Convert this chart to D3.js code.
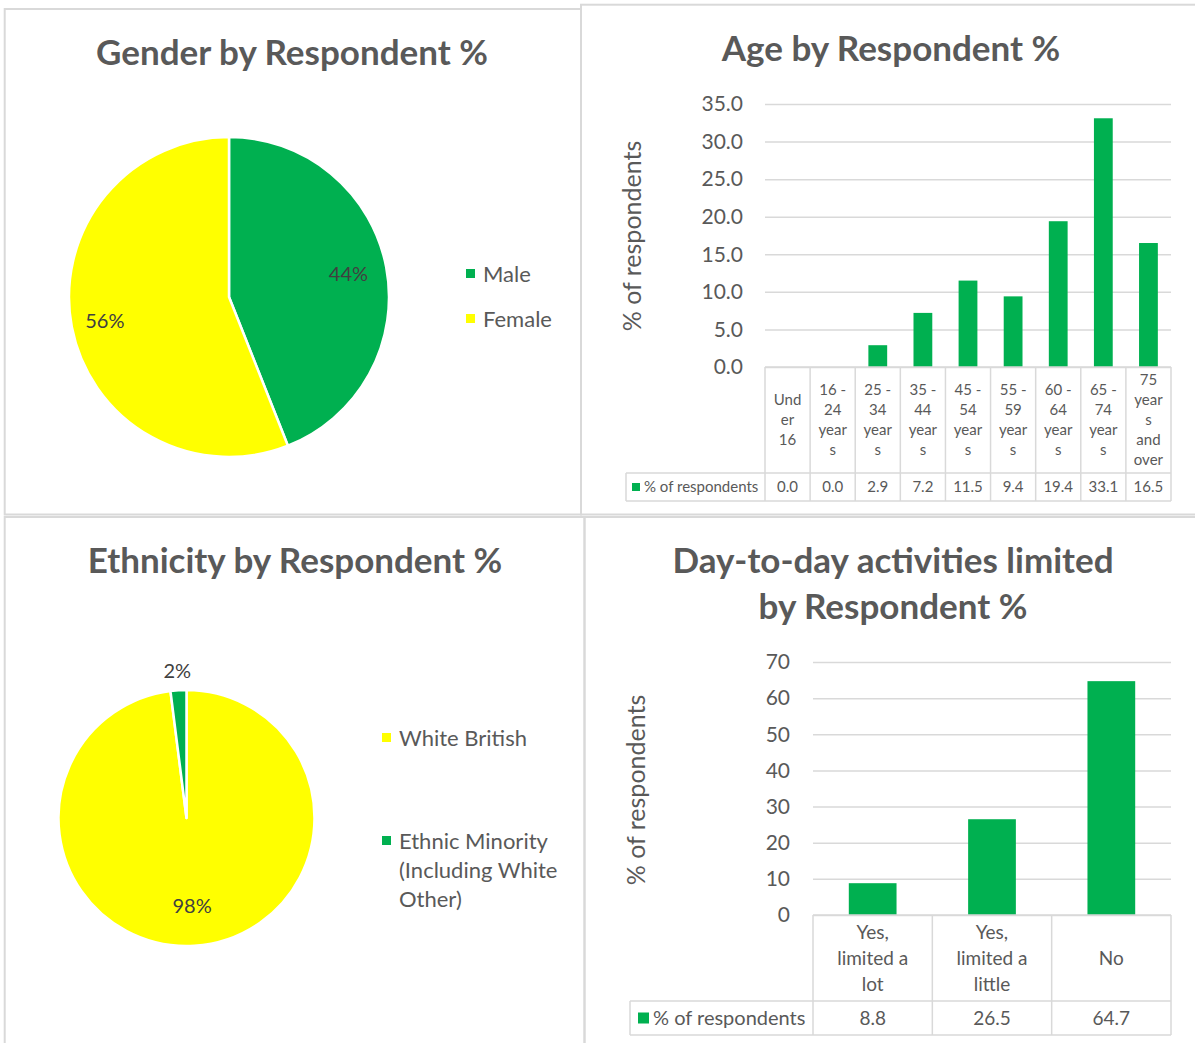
<!DOCTYPE html>
<html>
<head>
<meta charset="utf-8">
<script src="https://cdn.jsdelivr.net/npm/d3@7/dist/d3.min.js"></script>
<style>
  body { margin: 0; background: #fff; }
  svg text { font-family: Lato, "Open Sans", sans-serif; fill: #595959; }
</style>
</head>
<body>
<div id="chart"></div>
<script>
// ---- data ----
var genderLabels = ["Male", "Female"];
var genderValues = [44, 56];

var ethnicityLabels = ["White British", "Ethnic Minority (Including White Other)"];
var ethnicityLegendLines = [["White British"], ["Ethnic Minority", "(Including White", "Other)"]];
var ethnicityValues = [98, 2];

var ageCategories = ["Under 16", "16 - 24 years", "25 - 34 years", "35 - 44 years", "45 - 54 years",
    "55 - 59 years", "60 - 64 years", "65 - 74 years", "75 years and over"];
var ageLabelLines = [["Und", "er", "16"], ["16 -", "24", "year", "s"], ["25 -", "34", "year", "s"],
    ["35 -", "44", "year", "s"], ["45 -", "54", "year", "s"], ["55 -", "59", "year", "s"],
    ["60 -", "64", "year", "s"], ["65 -", "74", "year", "s"], ["75", "year", "s", "and", "over"]];
var ageValues = [0.0, 0.0, 2.9, 7.2, 11.5, 9.4, 19.4, 33.1, 16.5];
var ageTicks = [0, 5, 10, 15, 20, 25, 30, 35];

var activityCategories = ["Yes, limited a lot", "Yes, limited a little", "No"];
var activityLabelLines = [["Yes,", "limited a", "lot"], ["Yes,", "limited a", "little"], ["No"]];
var activityValues = [8.8, 26.5, 64.7];
var activityTicks = [0, 10, 20, 30, 40, 50, 60, 70];

var seriesName = "% of respondents";

var green = "#00B050", yellow = "#FFFF00", grid = "#D9D9D9";

var svg = d3.select("#chart")
    .append("svg")
    .attr("width", 1195)
    .attr("height", 1043);

// panel frames (each chart was a separate box)
var frames = [[4.7, 9, 576.3, 505.5], [581, 4.7, 630, 509.8], [4.7, 517, 579.8, 540], [584.5, 517, 630, 540]];
svg.selectAll("rect.frame")
    .data(frames)
    .enter().append("rect")
    .attr("class", "frame")
    .attr("x", d => d[0]).attr("y", d => d[1])
    .attr("width", d => d[2]).attr("height", d => d[3])
    .attr("fill", "none")
    .attr("stroke", grid)
    .attr("stroke-width", 2);

function title(lines, cx, y, lh) {
    var t = svg.append("text")
        .attr("text-anchor", "middle")
        .attr("font-size", 35)
        .attr("font-weight", "bold");
    lines.forEach(function (l, i) {
        t.append("tspan").attr("x", cx).attr("y", y + i * lh).text(l);
    });
}

title(["Gender by Respondent %"], 292, 65, 0);
title(["Age by Respondent %"], 891, 61, 0);
title(["Ethnicity by Respondent %"], 295, 573, 0);
title(["Day-to-day activities limited", "by Respondent %"], 893, 573, 46);

// ---- pies ----
function drawPie(cx, cy, r, values, colors, labelRadii) {
    var g = svg.append("g").attr("transform", "translate(" + cx + "," + cy + ")");
    var arcs = d3.pie().sort(null).value(d => d)(values);
    var total = d3.sum(values);
    var arc = d3.arc().innerRadius(0).outerRadius(r);
    g.selectAll("path")
        .data(arcs)
        .enter().append("path")
        .attr("d", arc)
        .attr("fill", (d, i) => colors[i])
        .attr("stroke", "#fff")
        .attr("stroke-width", 2.5)
        .attr("stroke-linejoin", "round");
    g.selectAll("text.pct")
        .data(arcs)
        .enter().append("text")
        .attr("class", "pct")
        .attr("transform", function (d, i) {
            var lr = r * labelRadii[i];
            return "translate(" + d3.arc().innerRadius(lr).outerRadius(lr).centroid(d) + ")";
        })
        .attr("text-anchor", "middle")
        .attr("dy", "0.35em")
        .attr("font-size", 20)
        .style("fill", "#404040")
        .text(d => d3.format(".0%")(d.value / total));
}

function drawLegend(x, ys, lines, colors, lh) {
    lines.forEach(function (ls, i) {
        svg.append("rect")
            .attr("x", x).attr("y", ys[i] - 5)
            .attr("width", 9).attr("height", 9)
            .attr("fill", colors[i]);
        var t = svg.append("text").attr("font-size", 22);
        ls.forEach(function (l, j) {
            t.append("tspan").attr("x", x + 17).attr("y", ys[i] + j * lh).attr("dy", "0.35em").text(l);
        });
    });
}

drawPie(229, 297, 160, genderValues, [green, yellow], [0.76, 0.79]);
drawLegend(466, [274, 319], genderLabels.map(d => [d]), [green, yellow], 29);

drawPie(186.5, 818, 128, ethnicityValues, [yellow, green], [0.69, 1.15]);
drawLegend(382, [738, 841], ethnicityLegendLines, [yellow, green], 29);

// ---- bar charts with data table ----
function drawBarTable(cfg) {
    var g = svg.append("g");
    var x = d3.scaleBand().domain(cfg.categories).range([cfg.left, cfg.right]).padding(0);
    var y = d3.scaleLinear().domain([0, d3.max(cfg.ticks)]).range([cfg.bottom, cfg.top]);
    var bw = x.bandwidth() / (1 + cfg.gap);

    // gridlines + tick labels
    var axis = d3.axisLeft(y)
        .tickValues(cfg.ticks)
        .tickSize(-(cfg.right - cfg.left))
        .tickPadding(cfg.tickPad)
        .tickFormat(cfg.tickFormat);
    var ax = g.append("g")
        .attr("transform", "translate(" + cfg.left + ",0)")
        .call(axis);
    ax.select(".domain").remove();
    ax.selectAll(".tick line").attr("stroke", grid).attr("stroke-width", 1.5);
    ax.selectAll(".tick text")
        .attr("font-size", 21)
        .attr("font-family", null)
        .attr("fill", null);

    // axis title
    g.append("text")
        .attr("transform", "translate(" + cfg.titleX + "," + cfg.titleY + ") rotate(-90)")
        .attr("text-anchor", "middle")
        .attr("dy", "0.35em")
        .attr("font-size", 25)
        .text(seriesName);

    // bars
    g.selectAll("rect.bar")
        .data(cfg.values)
        .enter().append("rect")
        .attr("class", "bar")
        .attr("x", (d, i) => x(cfg.categories[i]) + (x.bandwidth() - bw) / 2)
        .attr("y", d => y(d))
        .attr("width", bw)
        .attr("height", d => cfg.bottom - y(d))
        .attr("fill", green);

    // data table
    var hb = cfg.bottom + cfg.headH, vb = hb + cfg.rowH;
    var tl = g.append("g").attr("stroke", grid).attr("stroke-width", 1.5);
    tl.append("line").attr("x1", cfg.left).attr("x2", cfg.right).attr("y1", cfg.bottom).attr("y2", cfg.bottom);
    tl.append("line").attr("x1", cfg.legendX).attr("x2", cfg.right).attr("y1", hb).attr("y2", hb);
    tl.append("line").attr("x1", cfg.legendX).attr("x2", cfg.right).attr("y1", vb).attr("y2", vb);
    tl.append("line").attr("x1", cfg.legendX).attr("x2", cfg.legendX).attr("y1", hb).attr("y2", vb);
    tl.selectAll("line.col")
        .data(cfg.categories.concat(["end"]))
        .enter().append("line")
        .attr("class", "col")
        .attr("x1", d => d === "end" ? cfg.right : x(d))
        .attr("x2", d => d === "end" ? cfg.right : x(d))
        .attr("y1", cfg.bottom).attr("y2", vb);

    // category labels (wrapped as in the picture)
    var hc = cfg.bottom + cfg.headH / 2;
    cfg.labelLines.forEach(function (ls, i) {
        var t = g.append("text")
            .attr("text-anchor", "middle")
            .attr("font-size", cfg.tableFont);
        var y0 = hc - (ls.length - 1) / 2 * cfg.lineH;
        ls.forEach(function (l, j) {
            t.append("tspan")
                .attr("x", x(cfg.categories[i]) + x.bandwidth() / 2)
                .attr("y", y0 + j * cfg.lineH)
                .attr("dy", "0.35em")
                .text(l);
        });
    });

    // value row
    var vc = hb + cfg.rowH / 2;
    g.selectAll("text.val")
        .data(cfg.values)
        .enter().append("text")
        .attr("class", "val")
        .attr("x", (d, i) => x(cfg.categories[i]) + x.bandwidth() / 2)
        .attr("y", vc)
        .attr("dy", "0.35em")
        .attr("text-anchor", "middle")
        .attr("font-size", cfg.tableFont)
        .text(d => d3.format(".1f")(d));

    // legend key in the table
    g.append("rect")
        .attr("x", cfg.legendX + cfg.keyPad)
        .attr("y", vc - cfg.keySize / 2)
        .attr("width", cfg.keySize).attr("height", cfg.keySize)
        .attr("fill", green);
    g.append("text")
        .attr("x", cfg.legendX + cfg.keyPad + cfg.keySize + 4)
        .attr("y", vc)
        .attr("dy", "0.35em")
        .attr("font-size", cfg.keyFont)
        .text(seriesName);
}

drawBarTable({
    categories: ageCategories, values: ageValues, labelLines: ageLabelLines,
    ticks: ageTicks, tickFormat: d3.format(".1f"),
    left: 765, right: 1171, top: 104, bottom: 367, gap: 1.4, tickPad: 22,
    headH: 106, rowH: 28, legendX: 626, tableFont: 15, keyFont: 15, lineH: 20,
    keySize: 8, keyPad: 6, titleX: 632, titleY: 236
});

drawBarTable({
    categories: activityCategories, values: activityValues, labelLines: activityLabelLines,
    ticks: activityTicks, tickFormat: d3.format("d"),
    left: 813, right: 1171, top: 662, bottom: 915, gap: 1.5, tickPad: 23,
    headH: 86, rowH: 34, legendX: 630, tableFont: 19, keyFont: 20, lineH: 26,
    keySize: 11, keyPad: 8, titleX: 636, titleY: 790
});
</script>
</body>
</html>
